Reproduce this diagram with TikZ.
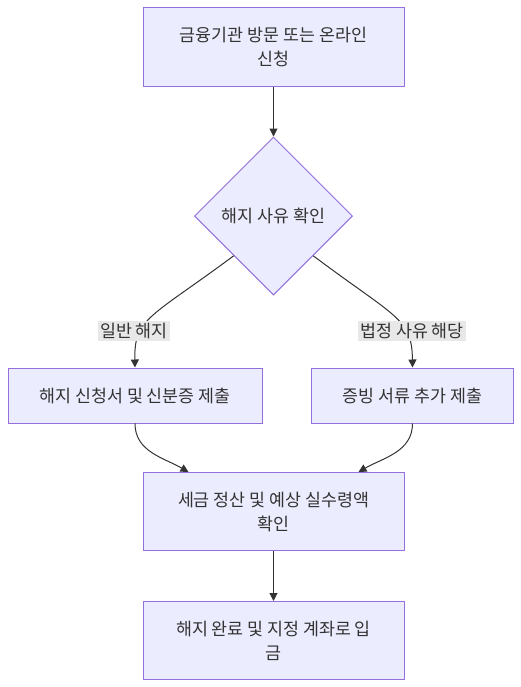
\documentclass[tikz,border=0pt]{standalone}
\usepackage{fontspec}
\setmainfont{Noto Sans CJK KR}
\usepackage{tikz}
\usetikzlibrary{arrows.meta,positioning,calc,shapes.geometric}
\definecolor{cFill}{HTML}{ECECFF}
\definecolor{cLine}{HTML}{9370DB}
\definecolor{cText}{HTML}{333333}
\definecolor{cLbl}{HTML}{E8E8E8}
\tikzset{
  box/.style={draw=cLine, line width=0.75pt, fill=cFill, text=cText, align=center,
              font=\fontsize{13}{18}\selectfont, inner sep=2pt},
  decide/.style={diamond, draw=cLine, line width=0.75pt, fill=cFill, text=cText,
                 font=\fontsize{13}{18}\selectfont, aspect=1, minimum size=118.5pt, inner sep=0pt},
  flow/.style={-{Triangle[length=6pt, width=6pt]}, line width=0.75pt, draw=cText},
  lbl/.style={fill=cLbl, text=cText, font=\fontsize{13}{15}\selectfont, inner sep=1.5pt},
}

\begin{document}
\begin{tikzpicture}[x=0.75pt, y=-0.75pt]
  \useasboundingbox (0,0) rectangle (521,687);
  % main chain --- apply, check reason
  \node[box, minimum width=195.75pt, minimum height=59.25pt] (apply) at (273.5,46.5) {금융기관 방문 또는 온라인\\신청};
  \node[decide, below=37.5pt of apply] (reason) {해지 사유 확인};
  % two branches
  \node[box, minimum width=190.5pt, minimum height=41.25pt] (normal) at (135,395.5) {해지 신청서 및 신분증 제출};
  \node[box, minimum width=151.5pt, minimum height=41.25pt] (legal) at (412.5,395.5) {증빙 서류 추가 제출};
  % settle and pay out
  \node[box, minimum width=195.75pt, minimum height=58.5pt] (settle) at (273.5,511.5) {세금 정산 및 예상 실수령액\\확인};
  \node[box, minimum width=195.75pt, minimum height=58.5pt, below=37.5pt of settle] (payout) {해지 완료 및 지정 계좌로 입\\금};
  \coordinate (inL) at ($(settle.north)+(-85,0)$);
  \coordinate (inR) at ($(settle.north)+(85,0)$);
  \draw[flow] (apply) -- (reason);
  \draw[flow] (reason.south west) .. controls (150,318) and (134,318) .. (normal.north);
  \draw[flow] (reason.south east) .. controls (396,318) and (412,318) .. (legal.north);
  \node[lbl] (lNormal) at (134,331) {일반 해지};
  \node[lbl] (lLegal) at (412,331) {법정 사유 해당};
  \draw[flow] (normal.south) to[out=-90, in=150] (inL);
  \draw[flow] (legal.south) to[out=-90, in=30] (inR);
  \draw[flow] (settle) -- (payout);
\end{tikzpicture}
\end{document}
